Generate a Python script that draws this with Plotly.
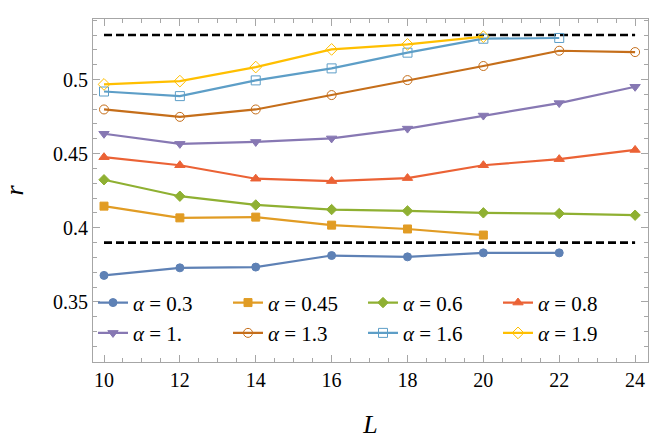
import plotly.graph_objects as go

L = [10, 12, 14, 16, 18, 20, 22, 24]

r_03 = [0.3679, 0.3730, 0.3735, 0.3813, 0.3804, 0.3831, 0.3831]
r_045 = [0.4146, 0.4067, 0.4072, 0.4018, 0.3992, 0.3951]
r_06 = [0.4324, 0.4213, 0.4154, 0.4123, 0.4114, 0.4101, 0.4096, 0.4085]
r_08 = [0.4476, 0.4422, 0.4331, 0.4315, 0.4335, 0.4422, 0.4463, 0.4525]
r_10 = [0.4634, 0.4566, 0.4579, 0.4603, 0.4669, 0.4757, 0.4841, 0.4951]
r_13 = [0.4798, 0.4748, 0.4798, 0.4895, 0.4996, 0.5091, 0.5194, 0.5185]
r_16 = [0.4919, 0.4888, 0.4994, 0.5075, 0.5181, 0.5275, 0.5280]
r_19 = [0.4967, 0.4989, 0.5084, 0.5203, 0.5237, 0.5289]

bounds = [0.53, 0.39]

series = [
    ("0.3", r_03, "#5E81B5", "circle"),
    ("0.45", r_045, "#E19C24", "square"),
    ("0.6", r_06, "#8FB032", "diamond"),
    ("0.8", r_08, "#EB6235", "triangle-up"),
    ("1.", r_10, "#8778B3", "triangle-down"),
    ("1.3", r_13, "#C56E1A", "circle-open"),
    ("1.6", r_16, "#5D9EC7", "square-open"),
    ("1.9", r_19, "#FFBF00", "diamond-open"),
]

FONT = "Liberation Serif"

fig = go.Figure()

for b in bounds:
    fig.add_trace(go.Scatter(
        x=[L[0], L[-1]], y=[b, b], mode="lines",
        line=dict(color="black", width=2.6, dash="8px,4px"),
        showlegend=False, hoverinfo="skip"))

for name, vals, col, sym in series:
    size = 9 if "open" in sym else 8
    if sym.startswith("triangle"):
        size = 9
    fig.add_trace(go.Scatter(
        x=L[:len(vals)], y=vals, mode="lines+markers",
        name="<i>α</i> = " + name,
        line=dict(color=col, width=2.2),
        marker=dict(symbol=sym, size=size, color=col,
                    line=dict(color=col, width=1)),
    ))

axis_common = dict(
    showgrid=False, zeroline=False, showline=True, linecolor="#a6a6a6",
    linewidth=1, mirror="ticks", ticks="inside", tickcolor="#a6a6a6",
    ticklen=7, tickwidth=1, tickfont=dict(family=FONT, size=20, color="black"),
    automargin=False,
)

fig.update_xaxes(
    range=[9.71, 24.34], tickvals=L, ticktext=[str(v) for v in L],
    minor=dict(dtick=0.5, tick0=10, ticks="inside", ticklen=4, tickcolor="#a6a6a6"),
    title=dict(text="<i>L</i>", font=dict(family=FONT, size=26, color="black"), standoff=24),
    **axis_common)

fig.update_yaxes(
    range=[0.3095, 0.5408], tickvals=[0.35, 0.4, 0.45, 0.5],
    ticktext=["0.35", "0.4", "0.45", "0.5"],
    minor=dict(dtick=0.01, tick0=0.3, ticks="inside", ticklen=4, tickcolor="#a6a6a6"),
    title=dict(text="<i>r</i>", font=dict(family=FONT, size=26, color="black"), standoff=22),
    **axis_common)

fig.update_layout(
    width=661, height=444,
    margin=dict(l=93, r=13, t=19, b=82),
    paper_bgcolor="white", plot_bgcolor="white",
    font=dict(family=FONT, color="black"),
    legend=dict(
        orientation="h", x=0.0, y=0.025, xanchor="left", yanchor="bottom",
        entrywidth=90, entrywidthmode="pixels",
        font=dict(family=FONT, size=21, color="black"),
        bgcolor="rgba(0,0,0,0)", itemwidth=30, tracegroupgap=0,
    ),
)

fig.write_html("out.html")
